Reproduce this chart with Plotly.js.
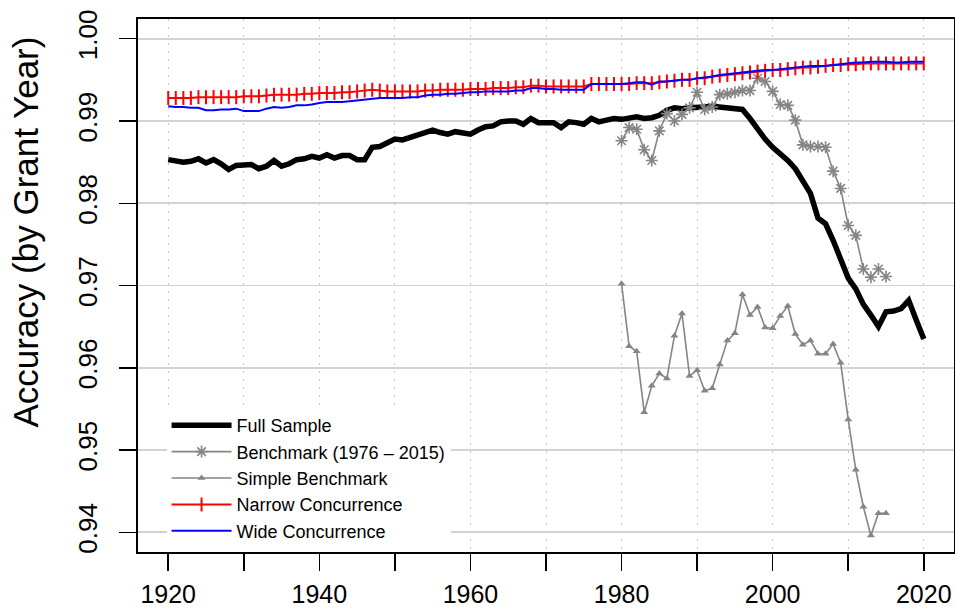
<!DOCTYPE html>
<html>
<head>
<meta charset="utf-8">
<script src="https://cdn.plot.ly/plotly-3.0.1.min.js"></script>
<style>html,body{margin:0;padding:0;background:#fff;}#chart{width:955px;height:614px;}</style>
</head>
<body>
<div id="chart"></div>
<script>
// ---- data ----
const years = [];
for (let y = 1920; y <= 2020; y++) years.push(y);
const benchYears = [];
for (let y = 1980; y <= 2015; y++) benchYears.push(y);

const fullSample = [
0.9853,0.9852,0.9850,0.9851,0.9854,0.9849,0.9853,0.9848,0.9841,0.9846,
0.9846,0.9847,0.9842,0.9845,0.9852,0.9845,0.9848,0.9853,0.9854,0.9857,
0.9855,0.9859,0.9855,0.9858,0.9858,0.9853,0.9853,0.9868,0.9869,0.9874,
0.9878,0.9877,0.9880,0.9883,0.9886,0.9889,0.9886,0.9884,0.9887,0.9885,
0.9884,0.9889,0.9893,0.9894,0.9899,0.9900,0.9900,0.9896,0.9903,0.9898,
0.9898,0.9898,0.9892,0.9899,0.9898,0.9896,0.9903,0.9899,0.9901,0.9903,
0.9902,0.9904,0.9905,0.9903,0.9904,0.9907,0.9913,0.9916,0.9915,0.9916,
0.9916,0.9917,0.9918,0.9917,0.9915,0.9915,0.9914,0.9903,0.9890,0.9878,
0.9868,0.9861,0.9852,0.9842,0.9828,0.9812,0.9782,0.9775,0.9755,0.9731,
0.9709,0.9696,0.9677,0.9664,0.9650,0.9668,0.9669,0.9672,0.9682,0.9658,
0.9635];

const benchmark = [
0.9876,0.9892,0.9890,0.9865,0.9852,0.9888,0.9909,0.9900,0.9908,0.9916,
0.9935,0.9914,0.9917,0.9932,0.9933,0.9935,0.9937,0.9937,0.9952,0.9948,
0.9936,0.9920,0.9919,0.9901,0.9871,0.9869,0.9869,0.9868,0.9839,0.9818,
0.9773,0.9761,0.9720,0.9710,0.9720,0.9711];

const simpleBenchmark = [
0.9702,0.9626,0.9620,0.9546,0.9578,0.9593,0.9587,0.9639,0.9666,0.9590,
0.9597,0.9572,0.9575,0.9604,0.9633,0.9642,0.9689,0.9664,0.9674,0.9649,
0.9648,0.9663,0.9675,0.9641,0.9628,0.9633,0.9617,0.9617,0.9629,0.9606,
0.9537,0.9476,0.9431,0.9396,0.9423,0.9423];

const narrow = [
0.9928,0.9928,0.9928,0.9928,0.9929,0.9929,0.9929,0.9929,0.9929,0.9929,
0.9930,0.9930,0.9930,0.9931,0.9932,0.9932,0.9932,0.9932,0.9933,0.9933,
0.9934,0.9934,0.9934,0.9935,0.9935,0.9936,0.9937,0.9938,0.9937,0.9936,
0.9936,0.9936,0.9936,0.9936,0.9937,0.9937,0.9938,0.9938,0.9938,0.9938,
0.9939,0.9939,0.9939,0.9940,0.9940,0.9940,0.9941,0.9941,0.9943,0.9943,
0.9942,0.9942,0.9942,0.9942,0.9942,0.9942,0.9945,0.9945,0.9945,0.9945,
0.9945,0.9945,0.9946,0.9946,0.9946,0.9947,0.9948,0.9949,0.9950,0.9950,
0.9952,0.9952,0.9954,0.9955,0.9956,0.9957,0.9958,0.9959,0.9960,0.9961,
0.9962,0.9962,0.9963,0.9964,0.9965,0.9965,0.9966,0.9967,0.9968,0.9968,
0.9969,0.9969,0.9970,0.9970,0.9970,0.9970,0.9970,0.9970,0.9970,0.9970,
0.9970];

const wide = [
0.9918,0.9917,0.9917,0.9916,0.9916,0.9913,0.9913,0.9914,0.9914,0.9915,
0.9912,0.9912,0.9912,0.9915,0.9917,0.9916,0.9917,0.9919,0.9919,0.9920,
0.9922,0.9923,0.9923,0.9923,0.9924,0.9925,0.9926,0.9927,0.9928,0.9928,
0.9928,0.9928,0.9929,0.9929,0.9931,0.9932,0.9932,0.9933,0.9933,0.9934,
0.9935,0.9935,0.9936,0.9936,0.9936,0.9936,0.9937,0.9937,0.9940,0.9940,
0.9939,0.9939,0.9938,0.9938,0.9938,0.9938,0.9945,0.9945,0.9945,0.9945,
0.9945,0.9946,0.9947,0.9947,0.9944,0.9948,0.9948,0.9949,0.9950,0.9950,
0.9952,0.9953,0.9954,0.9956,0.9957,0.9958,0.9959,0.9960,0.9961,0.9962,
0.9962,0.9963,0.9964,0.9965,0.9966,0.9967,0.9967,0.9967,0.9968,0.9969,
0.9970,0.9971,0.9971,0.9972,0.9972,0.9972,0.9971,0.9971,0.9972,0.9972,
0.9972];

const xTickVals = [1920,1930,1940,1950,1960,1970,1980,1990,2000,2010,2020];
const xTickText = ["1920","","1940","","1960","","1980","","2000","","2020"];
const yTickVals = [0.94,0.95,0.96,0.97,0.98,0.99,1.00];
const yTickText = ["0.94","0.95","0.96","0.97","0.98","0.99","1.00"];

const seriesNames = ["Full Sample","Benchmark (1976 \u2013 2015)","Simple Benchmark","Narrow Concurrence","Wide Concurrence"];
const yTitle = "Accuracy (by Grant Year)";

// ---- traces ----
const FONT = "'Liberation Sans', Arial, Helvetica, sans-serif";
const GRAY = "#858585";
const traces = [
  {x: years, y: fullSample, name: seriesNames[0], mode: "lines",
   line: {color: "#000000", width: 5.5}},
  {x: benchYears, y: benchmark, name: seriesNames[1], mode: "lines+markers",
   line: {color: GRAY, width: 1.6},
   marker: {symbol: "asterisk-open", size: 10, color: GRAY, line: {color: GRAY, width: 1.6}}},
  {x: benchYears, y: simpleBenchmark, name: seriesNames[2], mode: "lines+markers",
   line: {color: GRAY, width: 1.6},
   marker: {symbol: "triangle-up", size: 7, color: GRAY}},
  {x: years, y: narrow, name: seriesNames[3], mode: "lines+markers",
   line: {color: "#ff0000", width: 2},
   marker: {symbol: "line-ns-open", size: 10, color: "#ff0000", line: {color: "#ff0000", width: 2}}},
  {x: years, y: wide, name: seriesNames[4], mode: "lines",
   line: {color: "#0000ff", width: 2}}
];

const layout = {
  width: 955, height: 614,
  margin: {l: 138, r: 1, t: 19, b: 62, pad: 0},
  paper_bgcolor: "#ffffff", plot_bgcolor: "#ffffff",
  font: {family: FONT, color: "#000000", size: 18},
  showlegend: true,
  legend: {x: 0.035, y: 0.272, xanchor: "left", yanchor: "top",
           bgcolor: "#ffffff", borderwidth: 0,
           font: {family: FONT, size: 18, color: "#000"},
           tracegroupgap: 0, itemwidth: 60},
  xaxis: {range: [1916, 2024], tickmode: "array", tickvals: xTickVals, ticktext: xTickText,
          ticks: "outside", ticklen: 17, tickwidth: 1.5, tickcolor: "#000",
          showline: true, linecolor: "#000", linewidth: 1.8, mirror: true,
          showgrid: true, gridcolor: "#c4c4c4", gridwidth: 1, griddash: "2px,6px",
          zeroline: false, tickfont: {family: FONT, size: 25}, ticklabelstandoff: 2},
  yaxis: {range: [0.9376, 1.0024], tickmode: "array", tickvals: yTickVals, ticktext: yTickText,
          ticks: "outside", ticklen: 17, tickwidth: 1.5, tickcolor: "#000",
          showline: true, linecolor: "#000", linewidth: 1.8, mirror: true,
          showgrid: true, gridcolor: "#d3d3d3", gridwidth: 1.6,
          zeroline: false, tickangle: -90, tickfont: {family: FONT, size: 26}, ticklabelstandoff: 12},
  annotations: [{text: yTitle, xref: "paper", yref: "paper", x: -0.138, y: 0.60,
                 xanchor: "center", yanchor: "middle", textangle: -90, showarrow: false,
                 font: {family: FONT, size: 35, color: "#000"}}]
};

Plotly.newPlot("chart", traces, layout, {displayModeBar: false, staticPlot: true});
</script>
</body>
</html>
